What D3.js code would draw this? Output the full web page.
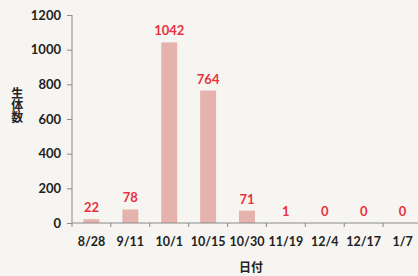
<!DOCTYPE html>
<html>
<head>
<meta charset="utf-8">
<script src="https://cdn.jsdelivr.net/npm/d3@7"></script>
<style>
  body { margin: 0; background: #f6f5f1; }
  svg { display: block; }
</style>
</head>
<body>
<div id="chart"></div>
<script>
// chart data
const dates = ["8/28", "9/11", "10/1", "10/15", "10/30", "11/19", "12/4", "12/17", "1/7"];
const counts = [22, 78, 1042, 764, 71, 1, 0, 0, 0];
const yTicks = [0, 200, 400, 600, 800, 1000, 1200];

const width = 418;
const height = 276;
const margin = {left: 72, right: -4, top: 15, bottom: 53};

const vis_width = width - margin.left - margin.right;
const vis_height = height - margin.top - margin.bottom;

const svg = d3.select("#chart")
  .append("svg")
    .attr("width", width)
    .attr("height", height);

svg.append("rect")
  .attr("width", width).attr("height", height)
  .attr("fill", "#f6f5f1");

const font = "Lato, 'Open Sans', sans-serif";

const X_SCALE = d3.scaleBand()
  .domain(dates)
  .range([0, vis_width])
  .paddingInner(0.59)
  .paddingOuter(0.295);

const Y_SCALE = d3.scaleLinear()
  .domain([0, 1200])
  .range([vis_height, 0]);

const g = svg.append("g")
  .attr("transform", "translate(" + margin.left + "," + margin.top + ")");

// bars
g.selectAll(".bar")
  .data(counts)
  .enter().append("rect")
    .attr("class", "bar")
    .attr("x", (d, i) => X_SCALE(dates[i]))
    .attr("y", d => Y_SCALE(d))
    .attr("width", X_SCALE.bandwidth())
    .attr("height", d => vis_height - Y_SCALE(d))
    .attr("fill", "#e5b2ae");

// value labels
g.selectAll(".val")
  .data(counts)
  .enter().append("text")
    .attr("class", "val")
    .attr("x", (d, i) => X_SCALE(dates[i]) + X_SCALE.bandwidth() / 2)
    .attr("y", d => Y_SCALE(d) - 7)
    .attr("text-anchor", "middle")
    .attr("font-family", font)
    .attr("font-weight", "bold")
    .attr("font-size", 13)
    .attr("fill", "#e8313c")
    .text(d => d);

// y axis
const yAxis = g.append("g")
  .call(d3.axisLeft(Y_SCALE).tickValues(yTicks).tickFormat(d3.format("d")).tickSize(5).tickPadding(6));
yAxis.select(".domain").attr("stroke", "#8a8a8a").attr("d", "M0," + vis_height + "V0");
yAxis.selectAll(".tick line").attr("stroke", "#8a8a8a");
yAxis.selectAll("text")
  .attr("font-family", font).attr("font-weight", "bold")
  .attr("font-size", 13).attr("fill", "#222");

// x axis, ticks between categories
const step = X_SCALE.step();
const xAxis = g.append("g")
  .attr("transform", "translate(0," + vis_height + ")");
xAxis.append("line")
  .attr("x1", 0).attr("x2", vis_width)
  .attr("stroke", "#8a8a8a");
xAxis.selectAll(".xt")
  .data(d3.range(dates.length + 1))
  .enter().append("line")
    .attr("x1", i => i * step).attr("x2", i => i * step)
    .attr("y1", 0).attr("y2", 4)
    .attr("stroke", "#8a8a8a");
xAxis.selectAll(".xl")
  .data(dates)
  .enter().append("text")
    .attr("x", d => X_SCALE(d) + X_SCALE.bandwidth() / 2)
    .attr("y", 23)
    .attr("text-anchor", "middle")
    .attr("font-family", font).attr("font-weight", "bold")
    .attr("font-size", 12.5).attr("fill", "#222")
    .text(d => d);

// axis titles
svg.append("text")
  .attr("x", 251).attr("y", 272)
  .attr("text-anchor", "middle")
  .attr("font-family", "'Noto Sans CJK JP', sans-serif")
  .attr("font-weight", "bold").attr("font-size", 12).attr("fill", "#222")
  .text("日付");

svg.append("text")
  .attr("x", 15).attr("y", 105)
  .attr("text-anchor", "middle")
  .attr("dominant-baseline", "middle")
  .style("writing-mode", "vertical-rl")
  .attr("font-family", "'Noto Sans CJK JP', sans-serif")
  .attr("font-weight", "bold").attr("font-size", 12).attr("fill", "#222")
  .text("生体数");
</script>
</body>
</html>
